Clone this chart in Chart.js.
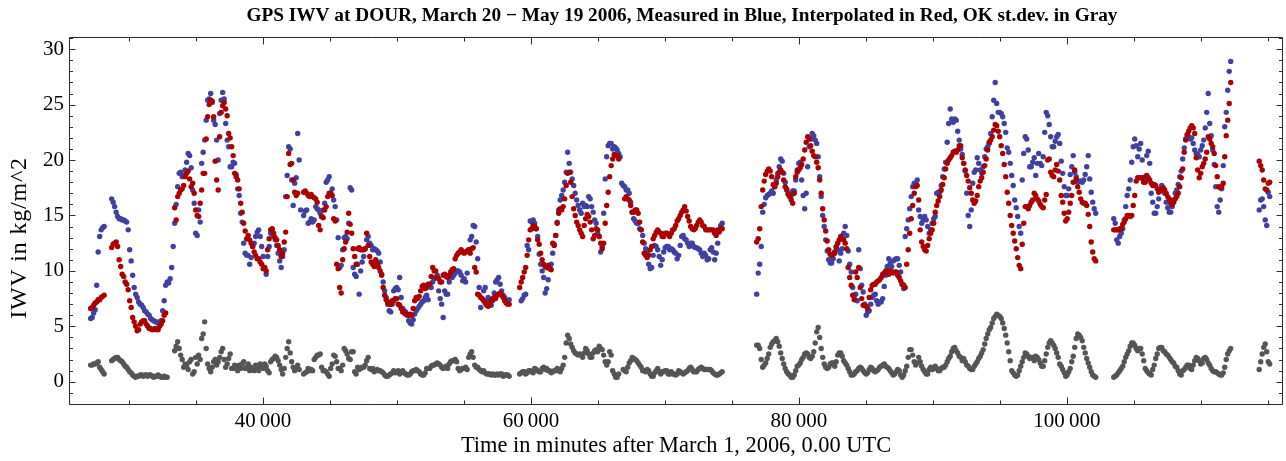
<!DOCTYPE html>
<html><head><meta charset="utf-8">
<script src="https://cdn.jsdelivr.net/npm/chart.js@4.4.1/dist/chart.umd.min.js"></script>
<style>html,body{margin:0;padding:0;background:#fff;overflow:hidden}#wrap{width:1286px;height:461px}</style>
</head><body><div id="wrap"><canvas id="c" width="1286" height="461"></canvas></div>
<script>
// ---- data (time in minutes after March 1, 2006; regular sampling grid) ----
const startMinute = 27139;
const sampleStep = 223.9;

// samples on the grid startMinute + i*sampleStep
const measuredBlue = [
5.7,6.2,8.7,13.1,13.9,null,null,
16.5,15.8,14.9,14.7,14.6,14.4,11.9,9.6,7.9,7.2,
6.9,6.4,6.1,5.7,5.5,5.4,5.4,6.4,8.7,8.9,
10.3,14.3,17.6,18.9,18.6,19.8,20.4,17.3,13.4,15.5,
19.7,21.8,25.4,26.0,23.6,21.8,24.2,26.1,23.3,21.2,
19.4,19.7,17.4,15.2,12.5,11.4,10.6,12.2,13.1,13.7,
12.2,10.3,11.3,13.4,13.1,12.3,10.9,11.3,16.7,21.2,
18.2,17.9,22.4,15.5,15.0,15.5,14.4,
14.4,15.8,15.5,14.9,16.1,18.2,17.0,16.4,14.6,10.3,
11.9,13.1,14.3,17.3,9.7,10.6,10.0,11.3,12.8,12.5,
11.9,11.9,11.6,9.7,8.2,7.0,6.3,8.2,8.5,9.4,
6.6,6.3,5.5,5.2,6.1,6.6,7.0,7.3,7.8,8.8,
9.0,9.4,8.2,7.0,8.2,7.9,9.7,9.6,10.0,9.9,
9.1,9.0,11.9,13.1,14.0,11.1,6.7,8.2,7.3,7.2,
7.3,9.0,9.4,8.2,7.6,7.3,null,null,null,null,
7.5,7.9,11.9,14.4,14.3,13.1,10.6,9.4,8.4,10.3,
11.6,
13.2,15.5,16.8,18.0,20.7,18.9,17.7,16.4,15.5,16.1,
15.9,16.7,15.8,14.6,13.4,11.7,15.2,20.3,21.5,21.0,
21.1,20.6,17.9,17.6,17.3,16.2,14.7,14.3,13.8,13.2,
12.0,10.6,10.3,12.3,11.9,10.5,11.7,12.2,11.9,11.9,
11.6,11.4,13.1,12.9,12.5,12.5,12.2,12.1,11.9,11.3,
11.4,11.1,12.1,11.0,12.5,14.1,null,null,null,null,
null,null,null,null,null,null,null,7.9,10.6,15.3,
16.6,16.9,17.2,17.6,18.8,20.1,18.8,17.4,16.7,17.2,
18.2,19.7,18.2,15.6,19.4,21.9,22.2,21.5,18.5,15.0,
12.8,11.0,10.7,11.6,11.9,11.6,13.4,13.2,10.6,8.5,
7.9,11.9,8.7,7.0,6.3,7.0,7.8,7.3,7.2,7.5,
9.6,11.1,10.4,11.0,11.1,9.9,8.4,13.8,15.6,17.6,
17.9,15.5,14.3,14.9,14.0,13.7,14.7,17.0,17.1,18.5,
19.8,23.3,23.7,23.7,22.6,21.0,19.7,17.0,14.0,17.9,
19.1,19.7,18.8,20.3,21.2,22.4,25.4,25.1,24.3,23.9,
22.5,20.7,18.6,16.4,14.9,13.4,20.6,21.9,19.4,19.8,
18.6,20.6,19.5,22.5,24.0,22.1,21.2,22.1,21.5,18.8,
16.8,17.4,19.4,18.9,18.0,18.1,18.2,19.4,18.3,16.2,
15.2,null,null,null,null,null,14.7,12.8,13.1,13.8,
15.8,17.4,19.8,21.9,20.3,21.5,18.2,20.4,19.7,16.2,
15.2,16.5,17.7,17.0,15.7,15.3,16.4,17.3,18.5,20.1,
21.9,22.1,22.0,20.9,20.5,20.9,21.8,24.3,23.3,20.9,
17.6,15.3,17.4,23.0,26.3,28.9,null,null,null,null,
null,null,null,null,null,16.4,15.8,14.1,16.7
];
// samples on the half-step grid startMinute + (i+0.5)*sampleStep
const measuredBlueMid = [
5.8,6.5,11.7,13.7,14.0,null,null,
16.2,15.3,14.7,14.6,14.5,13.7,10.9,8.5,7.6,7.0,
6.7,6.3,6.0,5.6,5.4,5.3,5.5,7.3,9.0,9.3,
12.2,16.0,18.8,18.5,19.1,20.6,19.3,16.1,13.2,14.4,
20.7,23.6,25.5,25.2,23.2,20.0,25.4,25.5,21.8,19.4,
19.8,18.7,16.8,14.4,11.6,11.4,11.2,12.5,13.5,13.1,
11.3,9.7,12.2,13.7,12.8,11.6,10.3,11.9,18.6,21.0,
15.9,18.4,20.0,null,15.4,14.3,14.7,
14.6,15.6,15.2,15.5,18.0,18.5,17.4,15.8,13.0,10.5,
13.0,12.9,17.5,10.3,9.5,7.9,10.8,12.0,13.1,12.3,
12.0,11.8,10.8,9.0,7.6,6.4,7.0,8.4,8.3,7.6,
6.4,6.0,5.3,5.6,6.4,6.8,7.2,7.6,7.4,8.5,
9.3,9.6,7.5,5.8,7.9,9.0,9.4,9.8,10.0,9.6,
9.3,9.8,12.8,14.1,12.6,8.5,7.5,8.5,7.6,6.9,
8.0,9.2,8.8,7.8,7.2,7.4,null,null,null,7.3,
7.8,12.3,14.5,14.6,13.8,11.5,10.0,8.0,9.2,10.6,
12.4,
14.4,16.4,17.3,18.9,19.7,18.3,17.0,15.9,15.2,15.8,
15.8,16.5,15.3,14.3,13.1,12.2,18.3,21.3,21.5,21.2,
20.9,20.3,17.7,17.3,17.0,15.3,14.5,14.3,13.7,12.5,
11.6,10.2,11.4,12.2,11.3,11.0,12.1,12.2,12.0,11.7,
11.1,12.3,13.2,12.8,12.2,12.5,12.1,12.0,11.6,11.6,
11.0,11.9,11.7,11.6,13.6,14.3,null,null,null,null,
null,null,null,null,null,null,null,9.8,12.2,16.0,
16.8,17.0,17.0,18.2,19.4,19.9,18.0,17.0,16.8,17.2,
19.1,19.8,16.8,17.0,21.2,22.4,21.8,20.3,16.7,14.0,
11.8,10.7,11.1,12.1,10.9,12.0,14.0,11.8,9.9,7.7,
7.3,10.2,8.1,6.0,6.4,7.6,7.9,7.0,7.2,8.6,
10.4,10.7,10.9,11.1,10.5,8.8,13.1,14.6,16.7,17.9,
18.2,14.9,14.6,14.6,13.4,14.3,14.9,17.1,17.7,19.2,
21.6,24.6,23.4,23.6,21.8,20.5,19.0,15.0,15.5,18.9,
20.2,19.1,19.4,21.0,21.5,23.9,27.0,24.3,24.2,23.3,
21.1,19.7,17.7,15.7,14.0,18.2,22.1,20.9,19.4,20.2,
19.7,19.7,20.3,24.3,23.2,21.2,21.7,22.3,19.9,17.6,
16.8,18.7,20.4,18.5,18.1,18.0,18.7,20.4,17.1,15.6,
null,null,null,null,null,null,14.3,12.5,13.4,14.6,
16.8,18.2,21.2,21.3,21.0,20.0,18.5,20.8,17.0,15.2,
15.8,17.4,17.4,16.2,15.3,15.8,17.0,17.8,19.0,21.1,
22.2,21.9,21.5,20.6,20.3,21.3,22.9,26.0,22.2,19.6,
15.8,16.4,19.5,24.3,28.0,null,null,null,null,null,
null,null,null,null,15.5,16.5,14.6,17.1,null
];

const interpolatedRed = [
6.6,6.9,7.2,7.4,7.7,null,null,
12.1,12.5,12.2,10.4,9.5,8.8,7.3,5.8,5.0,4.7,
5.4,5.5,5.0,4.8,4.7,4.7,5.0,5.5,6.2,null,
null,15.7,16.7,17.3,17.7,18.8,18.3,17.9,15.5,14.9,
17.3,18.8,23.9,25.4,23.9,18.2,22.1,24.9,24.6,22.4,
21.2,18.8,18.2,16.1,14.3,12.9,12.8,12.2,11.4,11.1,
10.6,10.3,11.9,13.7,13.4,12.8,11.9,11.6,13.5,20.6,
19.7,17.1,17.0,null,17.1,17.0,16.7,
16.7,16.5,14.1,14.9,15.5,16.7,17.0,14.7,10.6,8.5,
11.0,12.6,15.2,13.4,11.3,12.0,11.9,11.9,13.4,11.3,
10.6,11.0,10.3,9.6,7.8,7.2,7.0,7.3,7.5,6.9,
6.3,6.1,6.0,6.0,7.3,7.5,8.2,8.7,8.5,8.8,
10.3,10.0,9.3,9.0,9.7,9.4,9.9,10.2,11.4,11.7,
11.7,11.7,11.9,12.0,10.3,7.9,7.6,7.3,6.9,7.0,
7.5,7.5,7.9,7.8,7.3,7.0,null,null,null,8.5,
9.4,10.3,12.8,13.8,14.0,12.8,11.6,10.6,10.3,10.2,
12.5,
13.2,15.2,15.5,16.5,18.8,18.0,15.6,14.4,13.7,13.1,
14.7,14.9,13.7,13.2,13.7,12.5,12.5,15.9,18.5,20.1,
20.4,20.1,null,16.5,16.5,15.9,15.3,15.5,14.4,12.6,
11.4,11.4,12.2,13.2,13.7,13.4,13.1,13.4,13.1,13.7,
14.1,14.7,15.3,15.8,14.9,14.0,13.7,14.1,14.6,14.1,
13.7,13.7,13.7,13.4,13.7,13.8,null,null,null,null,
null,null,null,null,null,null,null,12.6,13.8,17.3,
18.7,19.2,18.5,17.6,18.5,19.1,18.2,17.3,16.7,16.1,
18.5,19.1,19.6,20.9,22.1,21.3,20.4,19.8,18.2,15.6,
13.6,11.9,11.4,11.7,12.5,13.1,12.8,12.0,9.4,7.8,
9.9,10.3,7.5,6.9,6.6,8.3,8.8,9.0,9.2,9.7,
10.0,9.7,9.9,9.9,9.6,9.1,8.7,10.6,13.4,15.9,
17.6,16.4,12.6,11.9,12.3,13.4,14.3,15.9,16.7,17.8,
19.2,20.0,20.4,20.8,20.9,21.3,19.7,18.6,17.5,16.4,
16.3,17.6,18.4,19.5,20.9,21.8,22.7,23.1,22.1,20.6,
18.5,16.1,14.1,12.7,11.2,10.2,14.3,15.8,15.9,16.4,
16.8,16.3,15.8,16.4,20.0,18.9,18.5,19.6,18.2,16.2,
14.5,15.3,16.8,19.1,17.6,16.5,16.1,15.9,14.0,11.7,
10.9,null,null,null,null,null,13.7,13.7,13.8,14.2,
14.7,15.0,15.0,16.8,18.4,18.4,18.0,18.6,18.2,17.7,
17.7,17.1,17.4,17.3,16.7,16.1,16.2,16.7,17.6,19.2,
21.8,22.6,23.1,22.4,19.1,18.8,19.7,20.7,21.9,21.2,
19.5,17.6,17.6,20.3,23.6,27.0,null,null,null,null,
null,null,null,null,null,19.5,18.2,17.3,18.0
];
const interpolatedRedMid = [
6.7,7.1,7.4,7.6,7.8,null,null,
12.4,12.6,11.0,9.7,9.0,8.3,6.7,5.4,4.6,5.2,
5.5,5.2,4.8,4.7,4.8,4.7,5.2,6.0,null,null,
null,14.6,17.0,17.4,18.5,19.0,17.6,17.0,15.0,16.1,
18.8,21.9,25.0,25.3,19.9,17.3,24.3,25.2,24.0,22.0,
20.4,18.5,17.4,15.3,13.6,13.2,12.5,11.7,11.1,10.8,
10.2,10.0,12.9,13.8,13.0,12.3,11.3,12.6,16.7,19.6,
18.2,16.8,null,null,17.2,16.8,16.9,
16.6,16.2,13.7,14.8,15.8,17.0,16.8,14.5,10.2,8.0,
12.0,13.5,14.2,12.0,10.6,12.1,11.9,12.0,12.3,10.8,
10.4,10.6,10.0,8.5,7.4,7.0,7.3,7.5,7.0,6.6,
6.2,6.1,6.1,6.6,7.6,7.7,8.6,8.4,8.8,9.5,
10.0,9.4,9.0,9.6,9.5,9.6,10.1,11.1,11.6,11.9,
11.6,11.8,11.6,12.1,9.9,7.8,7.5,7.1,6.8,7.3,
7.6,7.8,8.0,7.6,7.1,7.0,null,null,null,9.0,
9.9,11.4,13.7,14.1,13.8,12.4,11.0,10.4,10.5,10.1,
12.3,
14.3,15.6,15.8,17.7,18.9,16.7,15.0,14.1,13.4,14.1,
15.1,14.4,12.9,13.8,13.1,12.0,14.3,17.1,19.5,20.5,
20.4,null,null,16.7,16.4,15.3,15.5,15.2,13.7,11.6,
11.2,11.9,12.9,13.5,13.5,13.1,13.4,13.3,13.4,13.8,
14.5,15.0,15.5,15.4,14.5,13.8,13.8,14.4,14.4,14.0,
13.7,13.7,13.7,13.2,13.5,13.8,null,null,null,null,
null,null,null,null,null,null,null,12.9,15.8,18.1,
19.0,19.0,17.8,17.9,18.9,18.9,17.6,16.9,16.4,17.0,
18.9,19.3,20.1,21.6,21.9,20.8,20.3,19.3,17.0,14.6,
12.7,11.5,11.5,12.2,12.8,12.9,12.5,10.3,8.7,7.4,
9.4,8.5,6.9,6.8,7.6,8.7,8.8,9.1,9.4,9.8,
10.0,10.0,9.8,9.9,9.4,8.8,8.5,11.9,14.7,17.0,
17.7,13.7,12.2,11.8,12.9,13.7,15.3,16.3,17.3,18.4,
19.7,20.2,20.7,20.7,21.3,20.2,19.1,18.1,17.0,16.1,
16.8,18.1,18.9,20.1,21.6,22.1,23.2,22.6,21.3,19.6,
17.1,15.0,13.4,12.0,10.5,12.4,15.8,15.6,16.2,17.0,
16.5,16.0,15.7,16.9,20.1,18.6,19.1,19.0,16.8,15.2,
14.7,16.1,18.0,18.3,17.1,16.2,16.1,15.1,12.6,11.1,
null,null,null,null,null,null,13.7,13.7,13.8,14.4,
15.0,14.9,15.9,18.1,18.4,18.4,18.0,18.4,17.9,17.8,
17.4,17.2,17.5,17.0,16.5,16.0,16.5,17.0,18.4,20.7,
22.3,22.9,22.9,20.2,18.4,19.4,20.1,22.1,21.5,20.6,
18.5,17.5,17.9,22.2,25.1,null,null,null,null,null,
null,null,null,null,19.9,19.1,17.4,17.9,null
];

const stdevGray = [
1.5,1.6,1.7,1.3,0.9,null,null,
1.9,2.1,2.2,1.9,1.6,1.3,0.9,0.6,0.4,0.5,
0.6,0.6,0.5,0.6,0.4,0.5,0.5,0.4,0.4,null,
null,2.8,3.6,2.4,1.3,1.5,1.8,0.7,2.2,2.4,
3.9,5.4,1.6,0.9,1.8,1.5,2.2,3.0,1.3,2.1,
1.2,1.5,1.0,1.2,1.8,1.3,1.0,1.2,1.5,1.0,
1.3,1.6,1.0,1.8,2.1,2.2,1.5,0.7,2.2,3.6,
1.8,1.0,1.5,null,0.7,0.9,1.0,
1.0,2.2,2.4,1.3,1.0,0.7,1.2,2.4,1.8,1.2,
1.5,2.8,2.1,2.7,0.9,1.3,1.2,1.3,1.9,1.2,
1.2,1.0,1.0,0.9,0.6,0.5,0.7,1.0,0.9,0.7,
1.0,0.7,0.6,0.9,1.0,1.0,0.7,0.6,1.2,1.2,
1.5,1.6,1.6,1.3,1.3,1.2,1.8,1.9,1.8,1.0,
1.2,1.3,2.2,2.7,1.5,1.3,1.0,1.0,0.7,0.7,
0.7,0.6,0.6,0.7,0.6,0.6,null,null,null,0.7,
0.9,0.7,1.0,0.9,1.2,1.0,0.9,1.3,1.2,1.0,
0.9,
1.0,1.0,1.2,2.2,4.2,3.4,2.8,2.5,2.5,2.2,
3.0,2.5,2.2,2.8,2.7,3.0,2.4,1.5,2.7,1.0,
0.4,0.7,null,1.0,1.3,1.9,2.1,1.9,1.5,1.0,
0.9,1.0,0.5,0.8,1.2,0.7,0.9,1.0,0.7,0.7,
0.6,1.0,0.8,0.8,1.0,1.3,0.9,0.9,1.2,1.2,
1.1,1.1,1.0,0.7,0.6,0.8,null,null,null,null,
null,null,null,null,null,null,null,3.3,3.0,1.3,
1.7,2.5,3.4,3.7,3.6,2.6,1.6,0.9,0.6,0.4,
1.0,1.5,2.0,2.5,2.5,2.1,2.7,4.5,4.0,2.2,
1.3,1.3,1.7,1.4,2.4,2.6,1.9,1.5,0.9,0.6,
0.9,1.2,1.2,0.8,0.8,1.3,1.0,1.0,1.3,1.5,
1.4,1.2,0.8,0.7,1.1,0.6,0.6,1.4,2.9,2.4,
1.5,2.2,1.4,0.9,0.7,1.3,1.2,1.2,1.0,1.3,
1.5,2.1,2.7,3.1,2.6,2.2,2.1,1.5,1.2,1.1,
1.6,2.1,2.6,3.4,4.3,4.9,5.7,6.1,5.9,5.3,
4.2,2.7,1.0,0.6,0.6,1.4,2.2,2.5,2.1,2.2,
2.3,2.0,1.4,1.9,3.1,3.7,3.3,2.6,1.6,1.1,
0.5,0.9,1.8,3.1,4.3,4.0,3.1,2.1,1.3,0.6,
0.4,null,null,null,null,null,0.4,0.6,1.0,1.4,
2.2,2.8,3.5,3.3,2.8,3.0,1.9,1.0,0.7,1.1,
2.1,3.0,3.1,2.7,2.4,2.0,1.7,1.3,0.7,1.0,
1.3,1.5,1.1,1.9,2.1,1.6,2.1,2.0,1.5,1.0,
0.9,0.7,0.6,1.3,2.5,3.0,null,null,null,null,
null,null,null,null,null,1.8,3.1,2.7,1.6
];
const stdevGrayMid = [
1.5,1.6,1.8,1.1,0.7,null,null,
2.0,2.2,2.0,1.8,1.4,1.1,0.8,0.5,0.5,0.6,
0.5,0.6,0.6,0.5,0.5,0.6,0.4,0.5,0.4,null,
null,3.2,3.0,2.0,1.6,1.1,2.0,0.9,1.6,2.0,
4.3,3.0,1.2,1.3,2.0,1.8,2.7,2.0,1.6,2.5,
1.2,1.3,1.5,1.6,1.2,1.6,1.3,1.0,1.3,1.6,
1.2,1.4,0.8,2.0,2.3,1.9,1.1,1.2,3.0,2.6,
1.3,1.2,1.1,null,0.8,1.2,1.1,
2.0,2.4,2.5,1.0,0.9,0.5,1.6,2.3,1.2,1.0,
3.0,2.5,2.0,2.7,0.7,1.1,1.3,1.5,2.2,1.1,
0.9,1.1,1.0,0.8,0.5,0.6,0.8,0.8,1.0,0.9,
0.8,0.6,0.7,1.0,1.1,0.9,0.6,0.8,1.2,1.4,
1.5,1.7,1.5,1.2,1.4,1.6,1.9,2.0,1.2,1.1,
1.2,1.1,2.5,2.2,1.3,1.1,0.9,0.8,0.7,0.6,
0.6,0.7,0.7,0.5,0.6,0.5,null,null,null,0.8,
0.9,0.8,1.0,0.8,1.1,0.9,1.2,1.1,1.0,0.8,
1.0,
1.2,0.9,1.5,3.5,3.9,3.1,2.6,2.4,2.4,2.6,
2.8,2.2,2.6,2.9,3.2,2.9,1.8,1.8,2.4,0.7,
0.4,null,1.1,0.9,1.7,2.2,2.0,1.7,1.3,1.0,
1.1,0.7,0.5,1.0,0.9,0.9,1.0,0.7,0.9,0.7,
0.7,0.9,0.7,0.9,1.2,1.1,0.9,1.1,1.3,1.1,
1.1,1.1,0.8,0.6,0.7,0.9,null,null,null,null,
null,null,null,null,null,null,null,3.3,2.0,1.5,
2.1,3.1,3.6,3.9,3.2,2.1,1.2,0.7,0.4,0.6,
1.4,1.7,2.2,2.6,2.2,2.3,3.5,4.9,3.0,1.6,
1.2,1.6,1.7,1.8,2.6,2.3,1.7,1.2,0.6,0.7,
1.0,1.3,1.0,0.7,1.1,1.2,0.9,1.1,1.4,1.6,
1.3,1.0,0.6,0.9,1.0,0.4,1.0,2.2,2.9,1.8,
1.7,1.8,1.1,0.7,1.1,1.1,1.4,1.0,1.2,1.3,
1.8,2.3,3.0,2.8,2.3,1.9,1.8,1.4,1.1,1.4,
1.8,2.3,2.9,3.9,4.7,5.3,5.9,6.0,5.7,4.8,
3.5,1.9,0.8,0.5,1.0,1.8,2.6,2.3,2.2,1.9,
2.2,1.7,1.4,2.5,3.5,3.5,3.0,2.2,1.4,0.8,
0.6,1.2,2.3,3.9,4.2,3.7,2.6,1.7,0.9,0.5,
null,null,null,null,null,null,0.5,0.8,1.2,1.8,
2.5,3.2,3.5,3.0,3.0,2.5,1.2,0.8,0.6,1.5,
2.5,3.1,2.8,2.5,2.2,1.8,1.4,1.0,0.6,1.1,
1.5,1.2,1.5,2.2,1.9,1.7,2.2,1.7,1.2,0.9,
0.8,0.6,0.8,2.0,2.8,null,null,null,null,null,
null,null,null,null,1.1,2.5,3.4,1.8,null
];

const xMajorTicks = [40000, 60000, 80000, 100000];
const xMinorStep = 5000;
const yMajorTicks = [0, 5, 10, 15, 20, 25, 30];
const yMinorStep = 1;
const xRange = [25522, 116123];
const yRange = [-2.1, 31.1];

const chartTitle = "GPS IWV at DOUR, March 20 \u2212 May 19 2006, Measured in Blue, Interpolated in Red, OK st.dev. in Gray";
const xAxisTitle = "Time in minutes after March 1, 2006, 0.00 UTC";
const yAxisTitle = "IWV in kg/m^2";

// ---- build ----
function toPoints(vals, phase) {
  const pts = [];
  vals.forEach((v, i) => { if (v !== null) pts.push({ x: startMinute + (i + phase) * sampleStep, y: v }); });
  return pts;
}
function series(a, b) { return toPoints(a, 0).concat(toPoints(b, 0.5)).sort((p, q) => p.x - q.x); }
function fmt(v) { return String(v).replace(/\B(?=(\d{3})+(?!\d))/g, '\u2009'); }

const SERIF = '"Liberation Serif", "Times New Roman", serif';

const framePlugin = {
  id: 'frame',
  afterDatasetsDraw(chart) {
    const { ctx, chartArea: a, scales } = chart;
    ctx.save();
    ctx.strokeStyle = '#2a2a2a';
    ctx.lineWidth = 1;
    ctx.beginPath();
    const L = Math.round(a.left) + 0.5, R = Math.round(a.right) - 0.5;
    const T = Math.round(a.top) + 0.5, B = Math.round(a.bottom) - 0.5;
    ctx.rect(L, T, R - L, B - T);
    const xs = scales.x;
    for (let v = Math.ceil(xs.min / xMinorStep) * xMinorStep; v <= xs.max; v += xMinorStep) {
      const p = Math.round(xs.getPixelForValue(v)) + 0.5;
      const len = xMajorTicks.includes(v) ? 7 : 4;
      ctx.moveTo(p, B); ctx.lineTo(p, B - len);
      ctx.moveTo(p, T); ctx.lineTo(p, T + len);
    }
    const ys = scales.y;
    for (let v = Math.ceil(ys.min / yMinorStep) * yMinorStep; v <= ys.max; v += yMinorStep) {
      const p = Math.round(ys.getPixelForValue(v)) + 0.5;
      const len = yMajorTicks.includes(v) ? 6 : 3.5;
      ctx.moveTo(L, p); ctx.lineTo(L + len, p);
      ctx.moveTo(R, p); ctx.lineTo(R - len, p);
    }
    ctx.stroke();
    ctx.restore();
  },
  afterDraw(chart) {
    const { ctx } = chart;
    ctx.save();
    ctx.fillStyle = '#000';
    ctx.font = 'bold 19.3px ' + SERIF;
    ctx.textAlign = 'center';
    ctx.textBaseline = 'alphabetic';
    ctx.fillText(chartTitle, 682, 21);
    ctx.font = '24px ' + SERIF;
    if ('letterSpacing' in ctx) ctx.letterSpacing = '0.8px';
    ctx.translate(20, 238);
    ctx.rotate(-Math.PI / 2);
    ctx.textBaseline = 'middle';
    ctx.fillText(yAxisTitle, 0, 0);
    ctx.restore();
  }
};

const ctx = document.getElementById('c').getContext('2d');
new Chart(ctx, {
  type: 'scatter',
  data: {
    datasets: [
      { label: 'Interpolated', data: series(interpolatedRed, interpolatedRedMid), backgroundColor: 'rgb(170,0,0)', order: 1 },
      { label: 'Measured', data: series(measuredBlue, measuredBlueMid), backgroundColor: 'rgb(64,64,160)', order: 2 },
      { label: 'st.dev.', data: series(stdevGray, stdevGrayMid), backgroundColor: 'rgb(85,85,85)', order: 3 }
    ]
  },
  options: {
    responsive: false,
    animation: false,
    devicePixelRatio: 1,
    layout: { padding: { left: 0, right: 3, top: 37, bottom: 0 } },
    elements: { point: { radius: 2.7, borderWidth: 0, hoverRadius: 2.7 } },
    plugins: { legend: { display: false }, tooltip: { enabled: false }, title: { display: false } },
    scales: {
      x: {
        type: 'linear', min: xRange[0], max: xRange[1],
        grid: { display: false, drawTicks: false }, border: { display: false },
        afterBuildTicks: s => { s.ticks = xMajorTicks.map(v => ({ value: v })); },
        afterFit: s => { s.height = 56; },
        ticks: { color: '#000', padding: 4, font: { family: SERIF, size: 21 }, callback: v => fmt(v), maxRotation: 0, autoSkip: false },
        title: { display: true, text: xAxisTitle, color: '#000', font: { family: SERIF, size: 22.4 }, padding: { top: 0, bottom: 1 } }
      },
      y: {
        type: 'linear', min: yRange[0], max: yRange[1],
        grid: { display: false, drawTicks: false }, border: { display: false },
        afterBuildTicks: s => { s.ticks = yMajorTicks.map(v => ({ value: v })); },
        afterFit: s => { s.width = 69; },
        ticks: { color: '#000', padding: 5, font: { family: SERIF, size: 21 }, autoSkip: false }
      }
    }
  },
  plugins: [framePlugin]
});
</script>
</body></html>
